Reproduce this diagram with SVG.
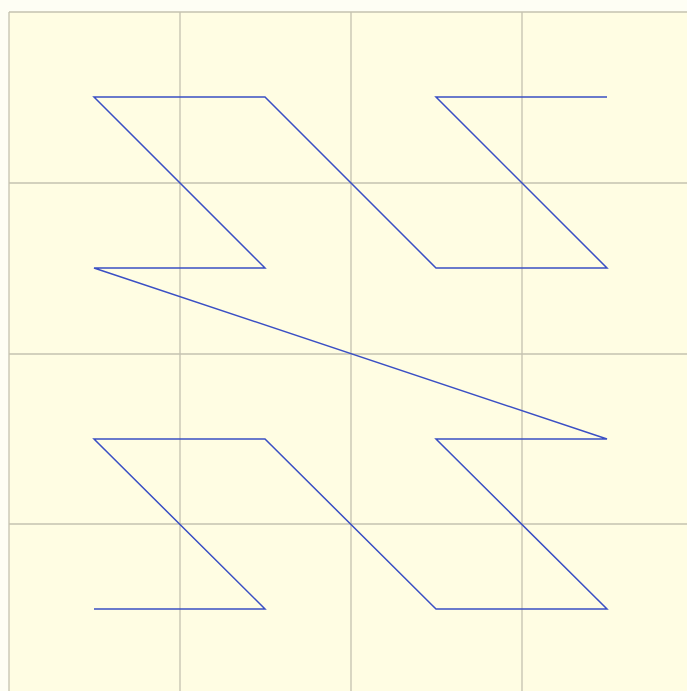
<svg xmlns="http://www.w3.org/2000/svg" width="687" height="691" viewBox="0 0 687 691">
<style>
.grid{stroke:#c4c2b0;stroke-width:1.3;fill:none}
.curve{stroke:#3a4fc4;stroke-width:1.5;fill:none;stroke-linejoin:miter}
</style>
<rect x="0" y="0" width="687" height="691" fill="#fefef4"/>
<rect x="9" y="12" width="690" height="690" fill="#fffde3"/>
<g id="grid">
<line class="grid" x1="9" y1="12" x2="687" y2="12"/>
<line class="grid" x1="9" y1="12" x2="9" y2="691"/>
<line class="grid" x1="180" y1="12" x2="180" y2="691"/>
<line class="grid" x1="351" y1="12" x2="351" y2="691"/>
<line class="grid" x1="522" y1="12" x2="522" y2="691"/>
<line class="grid" x1="9" y1="183" x2="687" y2="183"/>
<line class="grid" x1="9" y1="354" x2="687" y2="354"/>
<line class="grid" x1="9" y1="524" x2="687" y2="524"/>
</g>
<g id="connectors">
<polyline class="curve" points="94,609 265,609 94,439 265,439 436,609 607,609 436,439 607,439 94,268 265,268 94,97 265,97 436,268 607,268 436,97 607,97"/>
</g>
</svg>
